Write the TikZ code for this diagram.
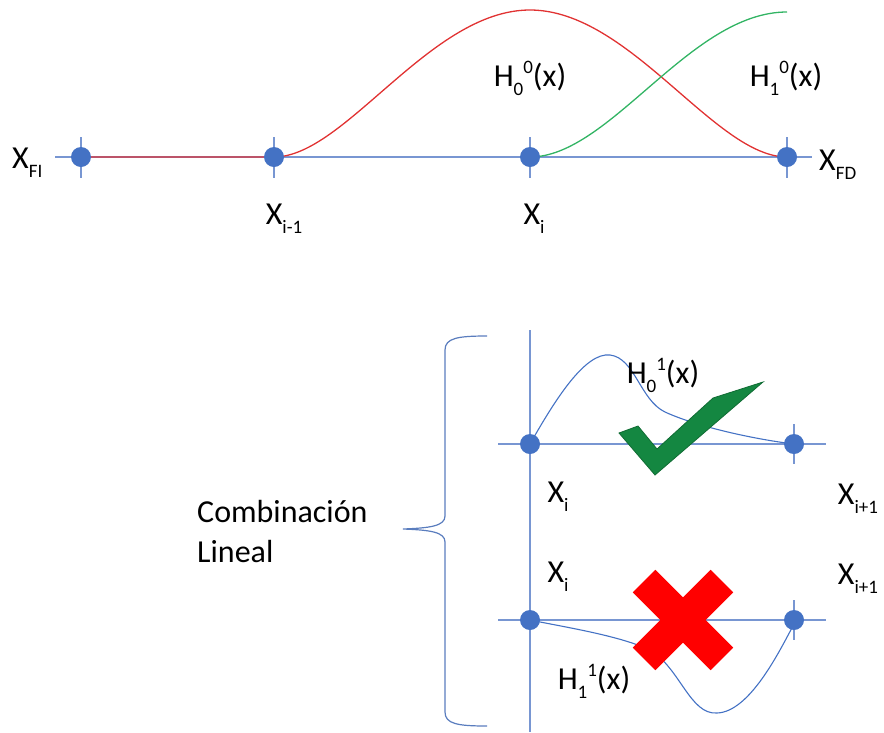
\documentclass[tikz,border=0pt]{standalone}
\usepackage{fontspec}
\setmainfont{Carlito}
\newcommand\sbs[1]{\raisebox{-0.30em}{\fontsize{19}{19}\selectfont #1}}
\newcommand\sps[1]{\raisebox{0.40em}{\fontsize{19}{19}\selectfont #1}}
\begin{document}
\begin{tikzpicture}[x=1pt,y=-1pt,
  axis/.style={draw=axblue,line width=1.4pt},
  dot/.style={circle,fill=dotblue,minimum size=20pt,inner sep=0pt},
  lab/.style={font=\fontsize{32}{38}\selectfont,inner sep=0pt},
  fcurve/.style={line width=1.3pt},
]
\definecolor{axblue}{RGB}{120,150,210}
\definecolor{dotblue}{RGB}{68,114,196}
\definecolor{cred}{RGB}{225,50,50}
\definecolor{cgreen}{RGB}{50,180,100}
\definecolor{chk}{RGB}{20,135,65}
\definecolor{brace}{RGB}{90,125,190}
\useasboundingbox (0,0) rectangle (884,732);

% ---------- top part ----------
\coordinate (axL) at (55,157);
\coordinate (axR) at (812,157);
\draw[axis] (axL) -- (axR);
\foreach \x in {81,274,530,787}{\draw[axis] (\x,137) -- (\x,178);}
\draw[cred,fcurve] (81,157) -- (274,157)
   .. controls (345,157) and (430,10) .. (530,10)
   .. controls (630,10) and (715,157) .. (787,157);
\draw[cgreen,fcurve] (530,157) .. controls (610,157) and (690,12) .. (787,12);
\node[dot] (a) at (81,157) {};
\node[dot] (b) at (274,157) {};
\node[dot] (c) at (530,157) {};
\node[dot] (d) at (787,157) {};

\node[lab,anchor=base west] (lFI) at (12,168) {X\sbs{FI}};
\node[lab,anchor=base] (lim1) at (284,224) {X\sbs{i-1}};
\node[lab,anchor=base] (li) at (534,224) {X\sbs{i}};
\node[lab,anchor=base west] (lFD) at (819,170) {X\sbs{FD}};
\node[lab,anchor=base] (h00) at (530,86) {H\sbs{0}\sps{0}(x)};
\node[lab,anchor=base] (h10) at (786,86) {H\sbs{1}\sps{0}(x)};

% ---------- bottom part ----------
\draw[axis] (530,330) -- (530,732);
\draw[axis] (498,444) -- (826,444);
\draw[axis] (498,620) -- (826,620);
\draw[axis] (794,424) -- (794,464);
\draw[axis] (794,600) -- (794,640);

% H0^1 curve
\draw[dotblue,line width=1.1pt] (530,444)
  .. controls (555,400) and (585,352) .. (610,355)
  .. controls (635,358) and (640,400) .. (665,412)
  .. controls (700,428) and (760,440) .. (794,444);
% H1^1 curve
\draw[dotblue,line width=1.1pt] (530,620)
  .. controls (570,628) and (620,636) .. (650,650)
  .. controls (680,668) and (690,715) .. (717,713)
  .. controls (750,712) and (780,650) .. (794,624);

\node[dot] (e) at (530,444) {};
\node[dot] (f) at (794,444) {};
\node[dot] (g) at (530,620) {};
\node[dot] (h) at (794,620) {};

% check mark
\filldraw[fill=chk,draw=chk!80!black,line width=0.8pt]
  (619,433) -- (638,426) -- (657,449) -- (713,398) -- (763,382) -- (655,475) -- cycle;

% red cross
\begin{scope}[shift={(683,620)}]
  \fill[red,rotate=45] (-55,-16) rectangle (55,16);
  \fill[red,rotate=-45] (-55,-16) rectangle (55,16);
\end{scope}

\node[lab,anchor=base] (h01) at (663,383) {H\sbs{0}\sps{1}(x)};
\node[lab,anchor=base] (h11) at (594,689) {H\sbs{1}\sps{1}(x)};
\node[lab,anchor=base] (xi1) at (558,502) {X\sbs{i}};
\node[lab,anchor=base] (xi11) at (858,504) {X\sbs{i+1}};
\node[lab,anchor=base] (xi2) at (558,582) {X\sbs{i}};
\node[lab,anchor=base] (xi12) at (858,584) {X\sbs{i+1}};

% brace
\draw[brace,line width=1.2pt] (487,336) .. controls (458,336) and (445,338) .. (445,350)
  -- (445,516) .. controls (445,526) and (430,528) .. (403,529)
  .. controls (430,530) and (445,532) .. (445,542)
  -- (445,712) .. controls (445,724) and (458,726) .. (487,726);

\node[lab,anchor=base west] (cl) at (197,522) {Combinación};
\node[lab,anchor=base west] (cl2) at (197,562) {Lineal};
\end{tikzpicture}
\end{document}
